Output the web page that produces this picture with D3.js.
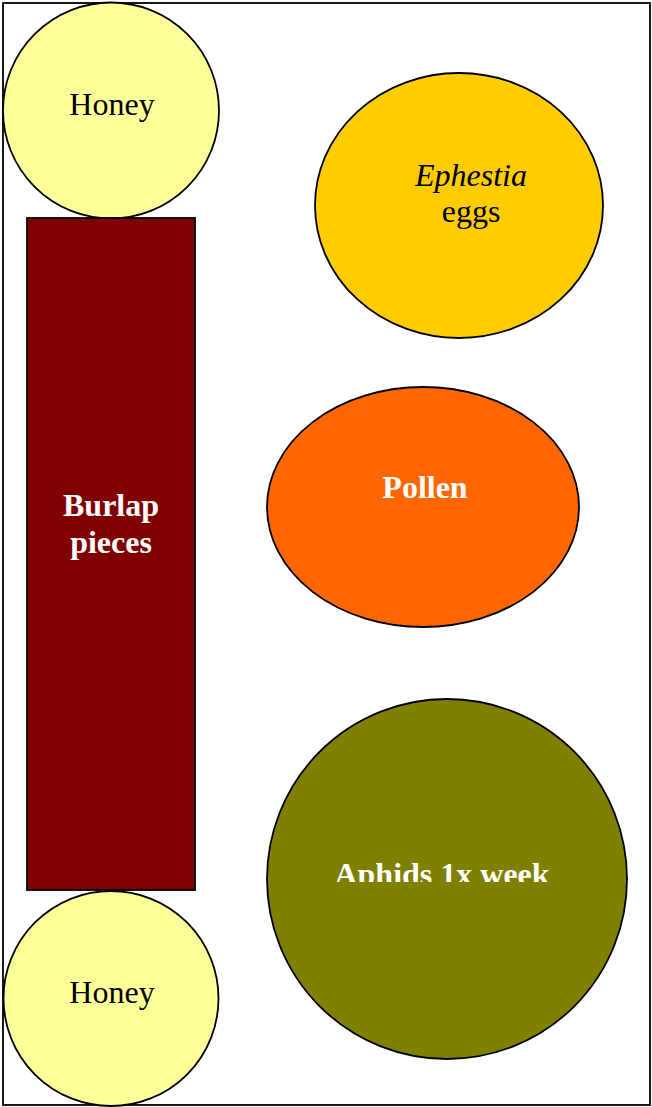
<!DOCTYPE html>
<html><head><meta charset="utf-8">
<script src="https://cdn.jsdelivr.net/npm/d3@7"></script>
<style>html,body{margin:0;padding:0;background:#fff;}svg{display:block;}</style>
</head><body>
<svg id="c" width="652" height="1107"></svg>
<script>
// Items in the layout diagram
const labels = [["Honey"], ["Burlap", "pieces"], ["Honey"], ["Ephestia", "eggs"], ["Pollen"], ["Aphids 1x week"]];
const kinds = ["circle", "rect", "circle", "ellipse", "ellipse", "circle"];
const fills = ["#FFFF99", "#800000", "#FFFF99", "#FFCC00", "#FF6600", "#808000"];
const textColors = ["#000", "#fff", "#000", "#000", "#fff", "#fff"];
const bold = [false, true, false, false, true, true];

// geometry (pixel layout)
const geom = [
  {cx:111, cy:110.5, rx:108, ry:108, tx:112, ty:[115]},
  {x:27, y:218, w:168, h:672, tx:111, ty:[516, 553]},
  {cx:111, cy:998.5, rx:107.5, ry:107.5, tx:112, ty:[1003]},
  {cx:459, cy:205.5, rx:144, ry:132.5, tx:471, ty:[186, 222]},
  {cx:423, cy:507, rx:156, ry:120, tx:425, ty:[498]},
  {cx:447, cy:879, rx:180, ry:180, tx:442, ty:[885]}
];
const italicLines = {"Ephestia": true};

const svg = d3.select("#c");
const defs = svg.append("defs");
defs.append("clipPath").attr("id","aclip").append("rect")
  .attr("x",0).attr("y",0).attr("width",652).attr("height",882);

svg.append("rect").attr("x",3).attr("y",3).attr("width",647).attr("height",1102)
  .attr("fill","#fff").attr("stroke","#000").attr("stroke-width",1.8);

const data = labels.map((l,i)=>({label:l, kind:kinds[i], fill:fills[i], tc:textColors[i], bold:bold[i], g:geom[i], i}));

const gs = svg.selectAll("g.item").data(data).join("g").attr("class","item");
gs.each(function(d){
  const g = d3.select(this);
  if (d.kind === "rect") {
    g.append("rect").attr("x",d.g.x).attr("y",d.g.y).attr("width",d.g.w).attr("height",d.g.h)
      .attr("fill",d.fill).attr("stroke","#000").attr("stroke-width",1.8);
  } else {
    g.append("ellipse").attr("cx",d.g.cx).attr("cy",d.g.cy).attr("rx",d.g.rx).attr("ry",d.g.ry)
      .attr("fill",d.fill).attr("stroke","#000").attr("stroke-width",1.8);
  }
  const tg = g.append("g");
  if (d.i === 5) tg.attr("clip-path","url(#aclip)");
  d.label.forEach((line,k)=>{
    tg.append("text").attr("x",d.g.tx).attr("y",d.g.ty[k])
      .attr("text-anchor","middle")
      .attr("font-family","'Liberation Serif','Times New Roman',serif")
      .attr("font-size",32)
      .attr("font-weight",d.bold?"bold":"normal")
      .attr("font-style",italicLines[line]?"italic":"normal")
      .attr("fill",d.tc)
      .text(line);
  });
});
</script>
</body></html>
